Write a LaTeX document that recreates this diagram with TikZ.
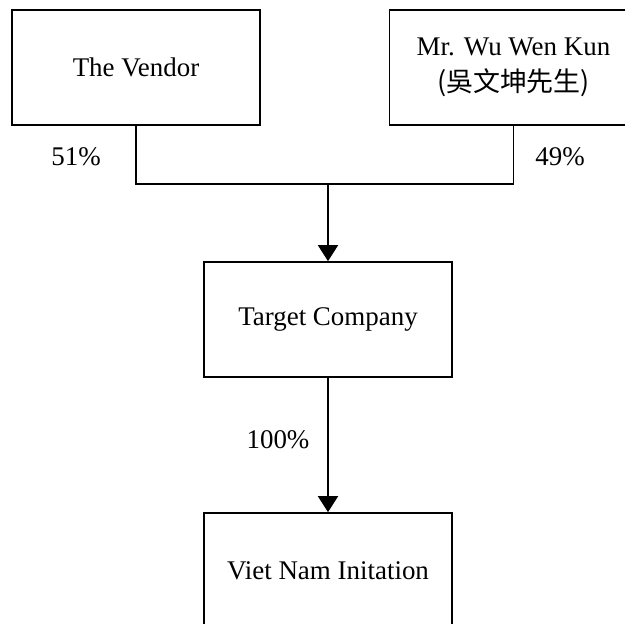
\documentclass[tikz,border=0pt]{standalone}
\usepackage{fontspec}
\setmainfont{Liberation Serif}
\newfontfamily\cjkfont{Noto Sans CJK TC}
\usetikzlibrary{arrows.meta}
\tikzset{
  holder/.style={draw,line width=1.4pt,minimum width=7.44cm,minimum height=3.45cm,align=center},
  share/.style={inner sep=0pt},
  link/.style={line width=1.4pt},
  owns/.style={line width=1.4pt,-{Triangle[width=0.6cm,length=0.48cm]}}
}
\begin{document}
\begin{tikzpicture}[every node/.style={font=\fontsize{23}{31}\selectfont}]
\useasboundingbox (0,0) rectangle (18.75,-18.69);
\clip (0,0) rectangle (18.75,-18.69);
% shareholders
\node[holder] (vendor) at (4.08,-2.025) {The Vendor};
\node[holder] (wu) at (15.405,-2.025) {Mr. Wu Wen Kun\\{\cjkfont (吳文坤先生)}};
% companies
\node[holder] (target) at (9.84,-9.585) {Target Company};
\node[holder] (viet) at (9.84,-17.115) {Viet Nam Initation};
\coordinate (join) at (9.84,-5.52);
\draw[link] (vendor.south) |- (join) -| (wu.south);
\draw[owns] (join) -- (target.north);
\draw[owns] (target.south) -- (viet.north);
% percentages
\node[share] (pv) at (2.28,-4.71) {51\%};
\node[share] (pw) at (16.8,-4.71) {49\%};
\node[share] (pt) at (8.34,-13.2) {100\%};
\end{tikzpicture}
\end{document}
